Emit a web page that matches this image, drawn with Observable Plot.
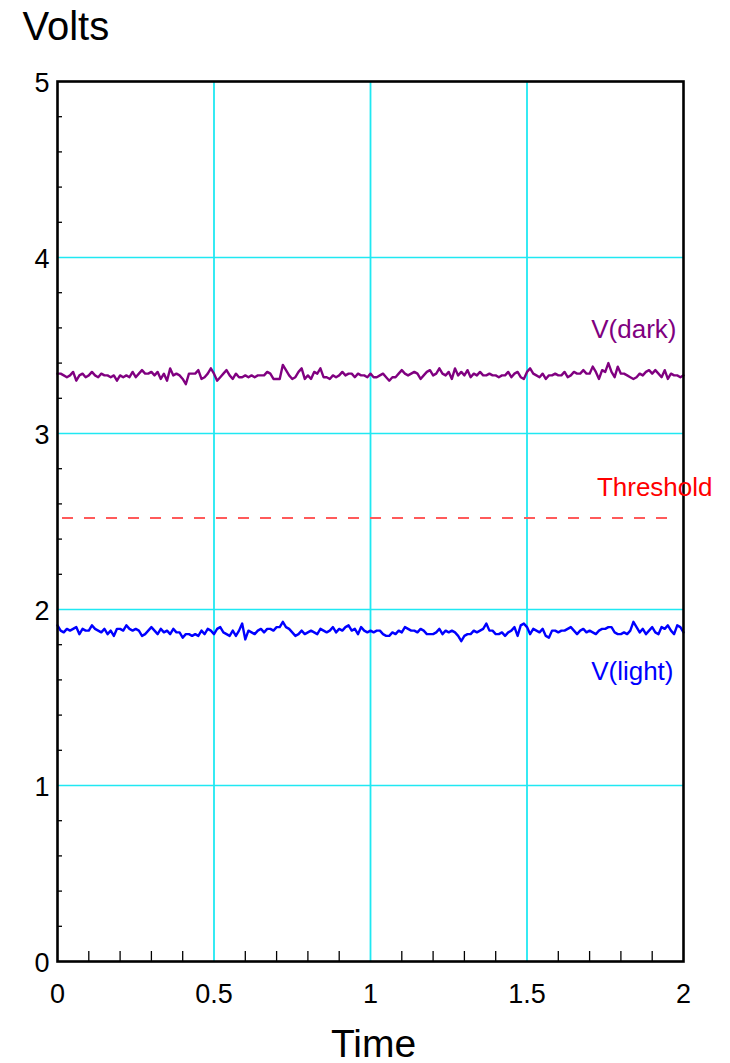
<!DOCTYPE html>
<html>
<head>
<meta charset="utf-8">
<script src="https://cdn.jsdelivr.net/npm/d3@7"></script>
<script src="https://cdn.jsdelivr.net/npm/@observablehq/plot@0.6"></script>
<style>
  html, body { margin: 0; padding: 0; background: white; }
</style>
</head>
<body>
<div id="chart"></div>
<script>
// ---- data ----
const dt = 0.01; // sampling step (Time units)
const vDark = [
3.34,3.34,3.33,3.32,3.33,3.35,3.30,3.33,3.34,3.32,
3.33,3.35,3.33,3.32,3.34,3.33,3.33,3.32,3.33,3.30,
3.33,3.32,3.33,3.32,3.35,3.32,3.34,3.36,3.34,3.34,
3.35,3.33,3.35,3.31,3.34,3.30,3.37,3.33,3.34,3.33,
3.31,3.28,3.34,3.34,3.34,3.36,3.31,3.32,3.34,3.37,
3.34,3.30,3.32,3.34,3.36,3.33,3.31,3.34,3.32,3.32,
3.33,3.32,3.33,3.32,3.33,3.33,3.33,3.35,3.34,3.31,
3.31,3.31,3.39,3.36,3.33,3.31,3.32,3.35,3.37,3.31,
3.33,3.31,3.35,3.34,3.37,3.32,3.32,3.31,3.33,3.32,
3.33,3.35,3.33,3.34,3.34,3.32,3.34,3.33,3.33,3.32,
3.34,3.32,3.32,3.33,3.34,3.32,3.30,3.32,3.32,3.34,
3.36,3.34,3.33,3.34,3.35,3.34,3.31,3.33,3.35,3.36,
3.33,3.34,3.37,3.34,3.33,3.35,3.31,3.37,3.33,3.35,
3.33,3.36,3.32,3.34,3.33,3.35,3.33,3.33,3.34,3.33,
3.33,3.32,3.33,3.33,3.35,3.32,3.34,3.35,3.32,3.31,
3.35,3.37,3.34,3.33,3.32,3.34,3.31,3.33,3.33,3.34,
3.33,3.33,3.35,3.32,3.33,3.35,3.34,3.34,3.36,3.34,
3.34,3.38,3.35,3.31,3.36,3.35,3.40,3.35,3.32,3.38,
3.34,3.34,3.33,3.32,3.31,3.32,3.34,3.33,3.35,3.36,
3.34,3.36,3.34,3.32,3.36,3.31,3.34,3.33,3.33,3.32,
3.33
];
const vLight = [
1.91,1.88,1.87,1.89,1.88,1.89,1.90,1.86,1.89,1.88,
1.88,1.91,1.89,1.88,1.87,1.89,1.86,1.88,1.85,1.89,
1.89,1.88,1.91,1.89,1.88,1.89,1.88,1.85,1.86,1.88,
1.90,1.88,1.86,1.89,1.87,1.88,1.86,1.89,1.87,1.87,
1.84,1.86,1.86,1.85,1.86,1.85,1.88,1.86,1.89,1.88,
1.86,1.89,1.90,1.87,1.86,1.85,1.88,1.85,1.88,1.92,
1.83,1.88,1.87,1.86,1.88,1.89,1.87,1.89,1.89,1.88,
1.90,1.90,1.93,1.90,1.89,1.87,1.85,1.86,1.88,1.86,
1.87,1.88,1.87,1.86,1.89,1.88,1.87,1.88,1.90,1.87,
1.89,1.88,1.90,1.91,1.88,1.89,1.86,1.90,1.88,1.87,
1.88,1.87,1.88,1.88,1.86,1.85,1.85,1.87,1.86,1.88,
1.87,1.90,1.89,1.88,1.88,1.87,1.89,1.88,1.86,1.86,
1.86,1.87,1.89,1.86,1.88,1.87,1.88,1.87,1.85,1.82,
1.85,1.86,1.86,1.88,1.87,1.88,1.89,1.92,1.88,1.88,
1.86,1.86,1.87,1.85,1.87,1.88,1.90,1.85,1.91,1.92,
1.90,1.86,1.89,1.88,1.87,1.89,1.85,1.84,1.88,1.88,
1.87,1.88,1.88,1.89,1.90,1.88,1.86,1.88,1.89,1.87,
1.88,1.87,1.86,1.88,1.89,1.89,1.90,1.90,1.87,1.86,
1.86,1.87,1.86,1.88,1.93,1.90,1.87,1.89,1.86,1.88,
1.90,1.87,1.86,1.90,1.89,1.91,1.88,1.86,1.91,1.90,
1.87
];
const threshold = 2.52;
const xTicks = [0, 0.5, 1, 1.5, 2];
const xTickLabels = ["0", "0.5", "1", "1.5", "2"];
const yTicks = [0, 1, 2, 3, 4, 5];
const yTickLabels = ["0", "1", "2", "3", "4", "5"];
const xGrid = [0.5, 1, 1.5];
const yGrid = [1, 2, 3, 4];
const xMinor = [0.1,0.2,0.3,0.4,0.6,0.7,0.8,0.9,1.1,1.2,1.3,1.4,1.6,1.7,1.8,1.9];
const yMinor = [0.2,0.4,0.6,0.8,1.2,1.4,1.6,1.8,2.2,2.4,2.6,2.8,3.2,3.4,3.6,3.8,4.2,4.4,4.6,4.8];

// ---- layout ----
const W = 730, H = 1063;
const mL = 57, mR = 47, mT = 81, mB = 102;
const innerW = W - mL - mR, innerH = H - mT - mB;

const darkData = vDark.map((v, i) => ({t: i * dt, v}));
const lightData = vLight.map((v, i) => ({t: i * dt, v}));

const gridColor = "#20e8f2";
const font = "'Liberation Sans', Arial, Helvetica, sans-serif";

const chart = Plot.plot({
  width: W,
  height: H,
  marginLeft: mL,
  marginRight: mR,
  marginTop: mT,
  marginBottom: mB,
  style: {fontFamily: font, background: "white", color: "black", overflow: "visible"},
  x: {domain: [0, 2], axis: null},
  y: {domain: [0, 5], axis: null},
  marks: [
    Plot.ruleY(yGrid, {stroke: gridColor, strokeWidth: 1.6}),
    Plot.ruleX(xGrid, {stroke: gridColor, strokeWidth: 1.8}),
    Plot.ruleY([threshold], {stroke: "#ff5a5a", strokeWidth: 2, strokeDasharray: "11,11", insetLeft: 5, insetRight: 5}),
    Plot.line(darkData, {x: "t", y: "v", stroke: "#800080", strokeWidth: 2.4}),
    Plot.line(lightData, {x: "t", y: "v", stroke: "#0000ff", strokeWidth: 2.4}),
    Plot.ruleX(xMinor, {stroke: "black", strokeWidth: 1.3, insetTop: innerH - 10}),
    Plot.ruleY(yMinor, {stroke: "black", strokeWidth: 1.3, insetRight: innerW - 5}),
    Plot.frame({stroke: "black", strokeWidth: 2.6}),
    // tick labels
    Plot.text(xTicks, {x: d => d, frameAnchor: "bottom", dy: 33, text: (d, i) => xTickLabels[i], fontSize: 27, fill: "black", lineAnchor: "middle"}),
    Plot.text(yTicks, {y: d => d, frameAnchor: "left", dx: -8, dy: 2, text: (d, i) => yTickLabels[i], fontSize: 27, fill: "black", textAnchor: "end", lineAnchor: "middle"}),
    // axis titles
    Plot.text(["Volts"], {frameAnchor: "top-left", dx: 22 - mL, dy: 39 - mT, textAnchor: "start", lineAnchor: "bottom", fontSize: 40, fill: "black"}),
    Plot.text(["Time"], {frameAnchor: "bottom", dx: 3, dy: 1056 - (H - mB), lineAnchor: "bottom", fontSize: 39, fill: "black"}),
    // series labels
    Plot.text(["V(dark)"], {frameAnchor: "top-right", dx: -7, dy: 337 - mT, textAnchor: "end", lineAnchor: "bottom", fontSize: 26, fill: "#800080"}),
    Plot.text(["Threshold"], {frameAnchor: "top-right", dx: 29, dy: 495 - mT, textAnchor: "end", lineAnchor: "bottom", fontSize: 26, fill: "#ff0000"}),
    Plot.text(["V(light)"], {frameAnchor: "top-right", dx: -10, dy: 679 - mT, textAnchor: "end", lineAnchor: "bottom", fontSize: 26, fill: "#0000ff"})
  ]
});
document.getElementById("chart").appendChild(chart);
</script>
</body>
</html>
